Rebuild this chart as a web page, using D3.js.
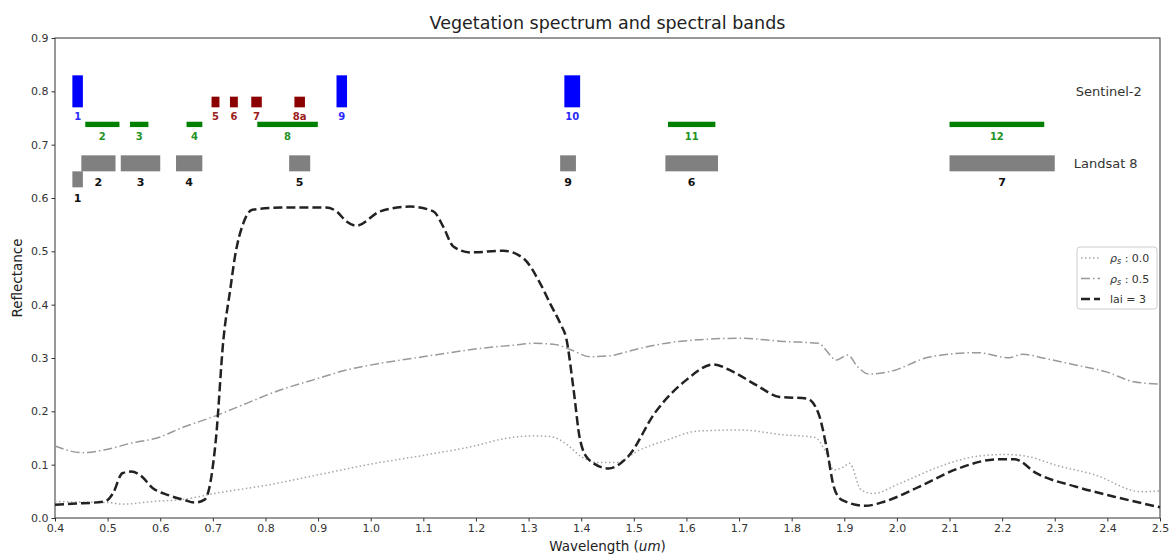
<!DOCTYPE html>
<html>
<head>
<meta charset="utf-8">
<title>Vegetation spectrum and spectral bands</title>
<style>
  body { margin: 0; background: #fff; }
  text { font-family: "DejaVu Sans", sans-serif; }
</style>
</head>
<body>
<div id="container"></div>
<script src="https://d3js.org/d3.v7.min.js"></script>
<script>

// chart size and margins
const width = 1170;
const height = 555;
const margin = {top: 38, right: 10, bottom: 37, left: 55};

// axis ticks
const xTicks = d3.range(4, 26).map(d => d / 10);
const yTicks = d3.range(0, 10).map(d => d / 10);

// lai = 3 spectrum
const laiWl = [0.40, 0.44, 0.495, 0.51, 0.528, 0.545, 0.561, 0.586, 0.615, 0.645, 0.666, 0.685, 0.695, 0.706,
  0.72, 0.733, 0.742, 0.758, 0.775, 0.83, 0.915, 0.935, 0.954, 0.973, 1.018, 1.075, 1.119, 1.138, 1.157, 1.19,
  1.252, 1.29, 1.322, 1.342, 1.36, 1.372, 1.385, 1.398, 1.415, 1.452, 1.489, 1.54, 1.60, 1.651, 1.689, 1.733,
  1.777, 1.829, 1.851, 1.866, 1.88, 1.895, 1.94, 1.977, 2.043, 2.117, 2.191, 2.224, 2.265, 2.339, 2.413, 2.5];
const laiRefl = [0.025, 0.027, 0.031, 0.046, 0.084, 0.087, 0.081, 0.056, 0.043, 0.034, 0.029, 0.035, 0.065, 0.15,
  0.334, 0.428, 0.49, 0.553, 0.578, 0.582, 0.582, 0.575, 0.556, 0.548, 0.575, 0.584, 0.575, 0.546, 0.509, 0.498,
  0.501, 0.487, 0.44, 0.40, 0.365, 0.335, 0.245, 0.146, 0.109, 0.093, 0.115, 0.197, 0.259, 0.288, 0.274, 0.249,
  0.227, 0.224, 0.196, 0.134, 0.059, 0.034, 0.023, 0.031, 0.059, 0.093, 0.110, 0.110, 0.084, 0.059, 0.040, 0.020];

// soil reflectance 0.0
const soil0Wl = [0.40, 0.44, 0.50, 0.528, 0.586, 0.645, 0.703, 0.805, 0.90, 1.0, 1.103, 1.205, 1.24, 1.309, 1.34,
  1.37, 1.40, 1.43, 1.466, 1.511, 1.562, 1.622, 1.703, 1.784, 1.844, 1.866, 1.88, 1.897, 1.91, 1.932, 1.955,
  2.006, 2.08, 2.154, 2.205, 2.25, 2.302, 2.376, 2.465, 2.5];
const soil0Refl = [0.031, 0.030, 0.029, 0.026, 0.031, 0.035, 0.046, 0.062, 0.081, 0.101, 0.118, 0.137, 0.146, 0.154,
  0.153, 0.14, 0.115, 0.104, 0.104, 0.1275, 0.146, 0.163, 0.165, 0.156, 0.151, 0.121, 0.09, 0.095, 0.1025, 0.0525,
  0.046, 0.065, 0.096, 0.116, 0.119, 0.115, 0.099, 0.081, 0.049, 0.051];

// soil reflectance 0.5
const soil5Wl = [0.40, 0.452, 0.50, 0.543, 0.60, 0.638, 0.701, 0.764, 0.828, 0.891, 0.954, 1.018, 1.081, 1.144,
  1.208, 1.271, 1.309, 1.347, 1.379, 1.417, 1.452, 1.511, 1.585, 1.703, 1.784, 1.851, 1.873, 1.884, 1.907, 1.925,
  1.947, 1.984, 2.065, 2.154, 2.213, 2.239, 2.28, 2.339, 2.398, 2.45, 2.5];
const soil5Refl = [0.135, 0.1225, 0.129, 0.14, 0.152, 0.168, 0.19, 0.215, 0.24, 0.259, 0.2775, 0.29, 0.2995, 0.309,
  0.318, 0.324, 0.3275, 0.326, 0.316, 0.3025, 0.304, 0.318, 0.331, 0.337, 0.331, 0.3275, 0.3056, 0.296, 0.3056, 0.284,
  0.27, 0.274, 0.3025, 0.31, 0.3006, 0.307, 0.2995, 0.287, 0.274, 0.2556, 0.251];

// Sentinel-2 bands (micrometres), group picks colour / bar height
const s2Bands = ["1", "2", "3", "4", "5", "6", "7", "8", "8a", "9", "10", "11", "12"];
const s2Lo = [0.433, 0.4575, 0.5425, 0.650, 0.6975, 0.7325, 0.773, 0.7845, 0.855, 0.935, 1.368, 1.565, 2.10];
const s2Hi = [0.453, 0.5225, 0.5775, 0.680, 0.7125, 0.7475, 0.793, 0.8995, 0.875, 0.955, 1.398, 1.655, 2.28];
const s2Group = ["b", "g", "g", "g", "r", "r", "r", "g", "r", "b", "b", "g", "g"];

// Landsat 8 bands
const l8Bands = ["1", "2", "3", "4", "5", "6", "7", "9"];
const l8Lo = [0.433, 0.450, 0.525, 0.630, 0.845, 1.560, 2.100, 1.360];
const l8Hi = [0.453, 0.515, 0.600, 0.680, 0.885, 1.660, 2.300, 1.390];

const groupStyle = {
  b: {color: "#0000ff", label: "#2a2aff", y0: 0.77, y1: 0.83},
  g: {color: "#008000", label: "#1f921f", y0: 0.733, y1: 0.743},
  r: {color: "#8b0000", label: "#9a2020", y0: 0.77, y1: 0.79}
};

const x = d3.scaleLinear().domain([0.4, 2.5]).range([margin.left, width - margin.right]);
const y = d3.scaleLinear().domain([0, 0.9]).range([height - margin.bottom, margin.top]);

const svg = d3.select("#container").append("svg")
    .attr("width", width)
    .attr("height", height);

// axes
svg.append("g")
    .attr("transform", `translate(0,${height - margin.bottom})`)
    .call(d3.axisBottom(x).tickValues(xTicks).tickFormat(d3.format(".1f")).tickSize(3.5).tickPadding(3))
    .call(g => g.select(".domain").remove());
svg.append("g")
    .attr("transform", `translate(${margin.left},0)`)
    .call(d3.axisLeft(y).tickValues(yTicks).tickFormat(d3.format(".1f")).tickSize(3.5).tickPadding(3))
    .call(g => g.select(".domain").remove());
svg.selectAll(".tick text").attr("font-size", 11).attr("fill", "#333").attr("font-family", "DejaVu Sans");
svg.selectAll(".tick line").attr("stroke", "#333");

// frame
svg.append("rect")
    .attr("x", x(0.4)).attr("y", y(0.9))
    .attr("width", x(2.5) - x(0.4)).attr("height", y(0) - y(0.9))
    .attr("fill", "none").attr("stroke", "#333").attr("stroke-width", 1);

// Sentinel-2 bars
const s2 = s2Bands.map((b, i) => ({name: b, lo: s2Lo[i], hi: s2Hi[i], st: groupStyle[s2Group[i]]}));
svg.append("g").selectAll("rect").data(s2).join("rect")
    .attr("x", d => x(d.lo)).attr("y", d => y(d.st.y1))
    .attr("width", d => x(d.hi) - x(d.lo)).attr("height", d => y(d.st.y0) - y(d.st.y1))
    .attr("fill", d => d.st.color);
svg.append("g").selectAll("text").data(s2).join("text")
    .attr("x", d => x((d.lo + d.hi) / 2)).attr("y", d => y(d.st.y0) + 13)
    .attr("text-anchor", "middle").attr("font-size", 10).attr("font-weight", "bold")
    .attr("fill", d => d.st.label)
    .text(d => d.name);

// Landsat 8 bars
const l8 = l8Bands.map((b, i) => ({name: b, lo: l8Lo[i], hi: l8Hi[i], y0: b === "1" ? 0.62 : 0.65}));
svg.append("g").selectAll("rect").data(l8).join("rect")
    .attr("x", d => x(d.lo)).attr("y", d => y(d.y0 + 0.03))
    .attr("width", d => x(d.hi) - x(d.lo)).attr("height", d => y(d.y0) - y(d.y0 + 0.03))
    .attr("fill", "#808080");
svg.append("g").selectAll("text").data(l8).join("text")
    .attr("x", d => x((d.lo + d.hi) / 2)).attr("y", d => y(d.y0) + 15)
    .attr("text-anchor", "middle").attr("font-size", 11).attr("font-weight", "bold")
    .attr("fill", "#111")
    .text(d => d.name);

svg.append("text").attr("x", x(2.34)).attr("y", y(0.8) + 5)
    .attr("font-size", 13).attr("fill", "#333").text("Sentinel-2");
svg.append("text").attr("x", x(2.336)).attr("y", y(0.665) + 5)
    .attr("font-size", 13).attr("fill", "#333").text("Landsat 8");

// spectra
const series = [
  {wl: soil0Wl, r: soil0Refl, color: "#a6a6a6", w: 1.5, dash: "1.5,2.5"},
  {wl: soil5Wl, r: soil5Refl, color: "#999999", w: 1.5, dash: "9,3,1.5,3"},
  {wl: laiWl, r: laiRefl, color: "#222222", w: 2.5, dash: "9,4"}
];
const line = d3.line()
    .x(d => x(d[0])).y(d => y(d[1]))
    .curve(d3.curveMonotoneX);
svg.append("g").selectAll("path").data(series).join("path")
    .attr("d", s => line(s.wl.map((w, i) => [w, s.r[i]])))
    .attr("fill", "none")
    .attr("stroke", s => s.color)
    .attr("stroke-width", s => s.w)
    .attr("stroke-dasharray", s => s.dash)
    .attr("stroke-linejoin", "round");

// legend
const lg = svg.append("g").attr("transform", "translate(1077,247)");
lg.append("rect").attr("width", 80).attr("height", 62).attr("rx", 3)
    .attr("fill", "#fff").attr("stroke", "#ccc");
const legendLabels = [["0.0"], ["0.5"], null];
series.forEach((s, i) => {
  const yy = 11 + i * 20.5;
  lg.append("line").attr("x1", 4).attr("x2", 23).attr("y1", yy).attr("y2", yy)
      .attr("stroke", s.color).attr("stroke-width", s.w).attr("stroke-dasharray", s.dash);
  const t = lg.append("text").attr("x", 33).attr("y", yy + 4).attr("font-size", 11).attr("fill", "#333");
  if (legendLabels[i]) {
    t.append("tspan").attr("font-style", "italic").text("ρ");
    t.append("tspan").attr("font-style", "italic").attr("font-size", 8).attr("dy", 2).text("s");
    t.append("tspan").attr("dy", -2).text(" : " + legendLabels[i][0]);
  } else {
    t.text("lai = 3");
  }
});

// titles
svg.append("text").attr("x", (x(0.4) + x(2.5)) / 2).attr("y", 29)
    .attr("text-anchor", "middle").attr("font-size", 17.5).attr("fill", "#222")
    .text("Vegetation spectrum and spectral bands");
svg.append("text")
    .attr("transform", `translate(22,${(y(0) + y(0.9)) / 2}) rotate(-90)`)
    .attr("text-anchor", "middle").attr("font-size", 13.5).attr("fill", "#222")
    .text("Reflectance");
const xl = svg.append("text").attr("x", (x(0.4) + x(2.5)) / 2).attr("y", 551)
    .attr("text-anchor", "middle").attr("font-size", 13.5).attr("fill", "#222");
xl.append("tspan").text("Wavelength (");
xl.append("tspan").attr("font-style", "italic").text("um");
xl.append("tspan").text(")");

</script>
</body>
</html>
